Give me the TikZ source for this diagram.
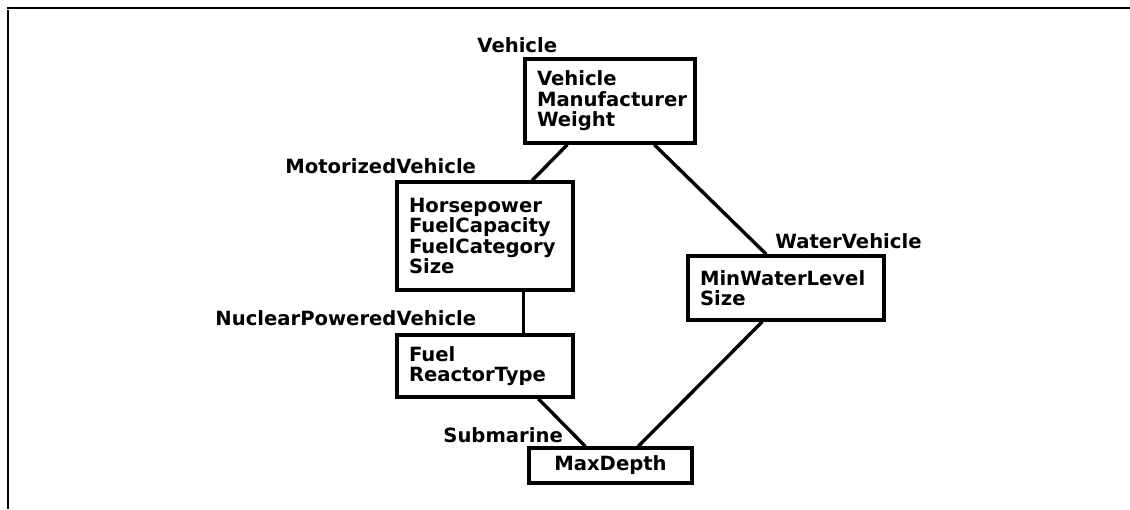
\documentclass[tikz,border=0pt]{standalone}
\usepackage{fontspec}
\setmainfont{DejaVu Sans}
\usepackage{tikz}
\usetikzlibrary{positioning}
\newcommand{\attrfont}{\fontsize{9.8pt}{10.3pt}\selectfont\bfseries}

\begin{document}
\begin{tikzpicture}[x=0.5pt, y=-0.5pt,
  cls/.style={draw=black, line width=1.7pt, align=left, font=\attrfont,
    inner xsep=6pt, inner ysep=0pt},
  cname/.style={font=\attrfont, inner sep=0pt, anchor=west},
  lnk/.style={line width=1.7pt, black},
  frm/.style={line width=1pt, black}
]
  \useasboundingbox (0,0) rectangle (1130,509);
  \coordinate (ftl) at (7,8);
  \coordinate (ftr) at (1130,8);
  \coordinate (fl) at (8,10);
  \coordinate (fb) at (8,509);
  \draw[frm] (ftl) -- (ftr);
  \draw[frm] (fl) -- (fb);

  \node[cls, text width=73pt, minimum height=42pt] (veh) at (610,101)
    {Vehicle\\Manufacturer\\Weight};
  \node[cls, text width=76pt, minimum height=54pt] (mot) at (485,236)
    {Horsepower\\FuelCapacity\\FuelCategory\\Size};
  \node[cls, text width=76pt, minimum height=31pt] (nuc) at (485,366)
    {Fuel\\ReactorType};
  \node[cls, text width=86pt, minimum height=32pt] (wat) at (786,288)
    {MinWaterLevel\\Size};
  \node[cls, align=center, text width=69.5pt, minimum height=17.5pt] (sub) at (610.5,465.5)
    {MaxDepth};

  \node[cname] (vehl) at (477,45) {Vehicle};
  \node[cname] (motl) at (285,166) {MotorizedVehicle};
  \node[cname] (nucl) at (215,318) {NuclearPoweredVehicle};
  \node[cname] (watl) at (775,241) {WaterVehicle};
  \node[cname] (subl) at (443,435) {Submarine};

  \draw[lnk] ([xshift=22pt]veh.south west) -- ([xshift=68.5pt]mot.north west);
  \draw[lnk] ([xshift=65.5pt]veh.south west) -- ([xshift=40pt]wat.north west);
  \draw[lnk] ([xshift=64pt]mot.south west) -- ([xshift=64pt]nuc.north west);
  \draw[lnk] ([xshift=71.5pt]nuc.south west) -- ([xshift=29pt]sub.north west);
  \draw[lnk] ([xshift=38pt]wat.south west) -- ([xshift=55.5pt]sub.north west);
\end{tikzpicture}
\end{document}
